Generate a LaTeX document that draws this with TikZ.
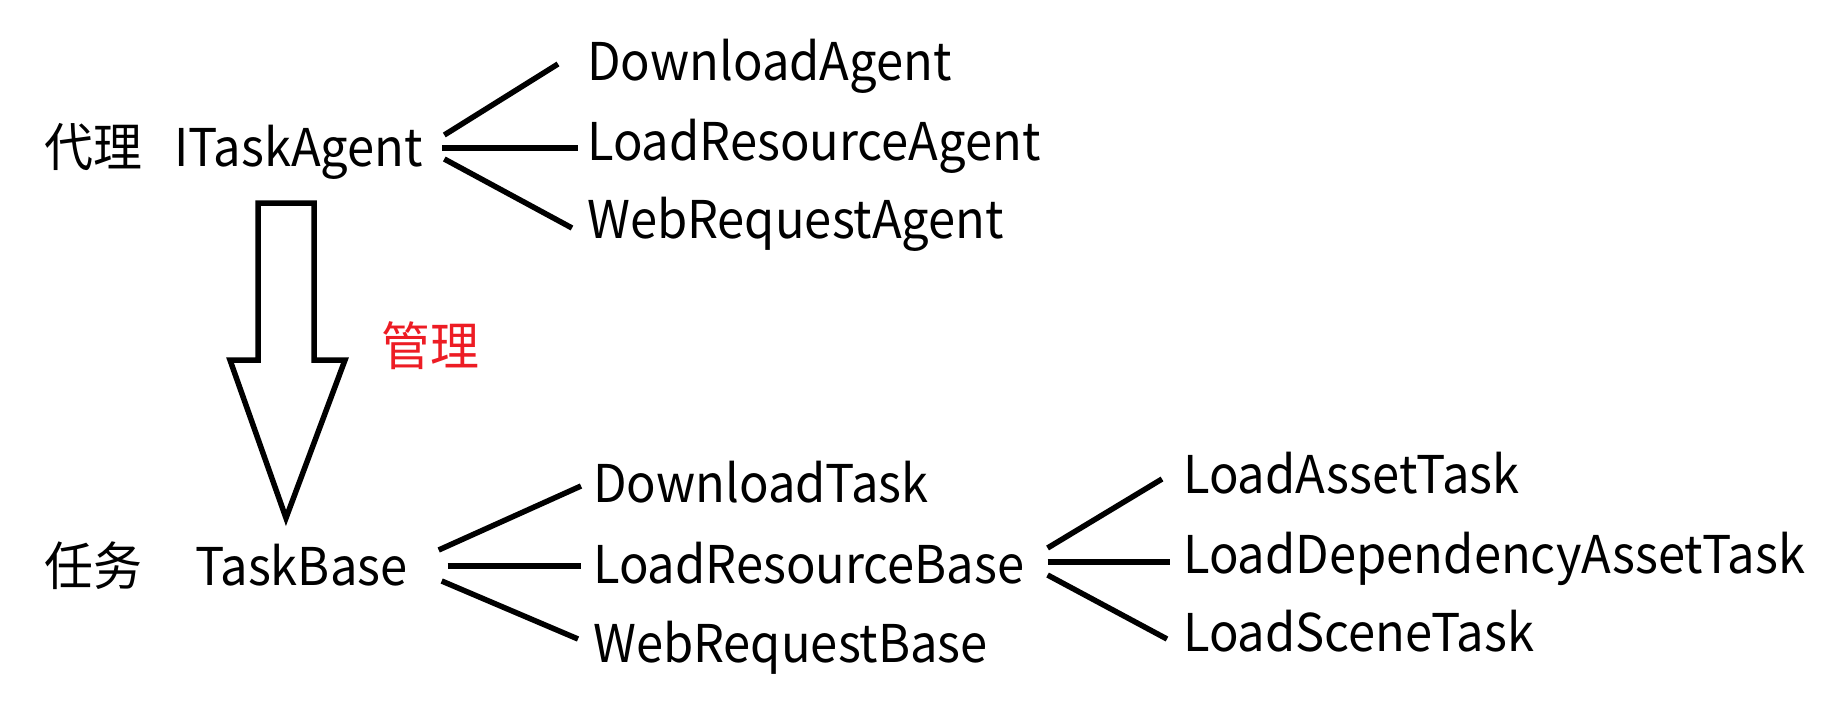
\documentclass[tikz,border=0pt]{standalone}
\usepackage{fontspec}
\setmainfont[FakeStretch=0.94]{Noto Sans CJK SC}
\definecolor{labred}{RGB}{237,28,36}
\begin{document}
\begin{tikzpicture}[x=1pt,y=-1pt,
  lbl/.style={anchor=base west,inner sep=0pt,font=\fontsize{52}{60}\selectfont},
  conn/.style={line width=5.5pt},
  bigarrow/.style={line width=5.5pt,fill=white,line join=miter}]
\useasboundingbox[fill=white] (0,0) rectangle (1822,704);
% top group
\node[lbl] (cn1) at (44,166) {代理};
\node[lbl] (itask) at (174,166) {ITaskAgent};
\node[lbl] (dla) at (587,80) {DownloadAgent};
\node[lbl] (lra) at (587,160) {LoadResourceAgent};
\node[lbl] (wra) at (587,238) {WebRequestAgent};
\draw[conn] ([shift={(21,-31)}]itask.base east) -- ([shift={(-29,-16)}]dla.base west);
\draw[conn] ([shift={(19,-18)}]itask.base east) -- ([shift={(-9,-12)}]lra.base west);
\draw[conn] ([shift={(21,-7)}]itask.base east) -- ([shift={(-15,-10)}]wra.base west);
% arrow
\draw[bigarrow] (258,203) -- (314,203) -- (314,360) -- (345,360) -- (286,518) -- (230,360) -- (258,360) -- cycle;
\node[lbl,text=labred,anchor=west] (mgr) at (381,346) {管理};
% bottom group
\node[lbl] (cn2) at (44,585) {任务};
\node[lbl] (tb) at (195,585) {TaskBase};
\node[lbl] (dt) at (593,502) {DownloadTask};
\node[lbl] (lrb) at (593,583) {LoadResourceBase};
\node[lbl] (wrb) at (593,662) {WebRequestBase};
\draw[conn] ([shift={(31,-35)}]tb.base east) -- ([shift={(-12,-16)}]dt.base west);
\draw[conn] ([shift={(40,-19)}]tb.base east) -- ([shift={(-12,-17)}]lrb.base west);
\draw[conn] ([shift={(34,-4)}]tb.base east) -- ([shift={(-15,-23)}]wrb.base west);
\node[lbl] (lat) at (1183,493) {LoadAssetTask};
\node[lbl] (lda) at (1183,573) {LoadDependencyAssetTask};
\node[lbl] (lst) at (1183,651) {LoadSceneTask};
\draw[conn] ([shift={(23,-35)}]lrb.base east) -- ([shift={(-21,-14)}]lat.base west);
\draw[conn] ([shift={(23,-21)}]lrb.base east) -- ([shift={(-13,-11)}]lda.base west);
\draw[conn] ([shift={(23,-8)}]lrb.base east) -- ([shift={(-16,-12)}]lst.base west);
\end{tikzpicture}
\end{document}
